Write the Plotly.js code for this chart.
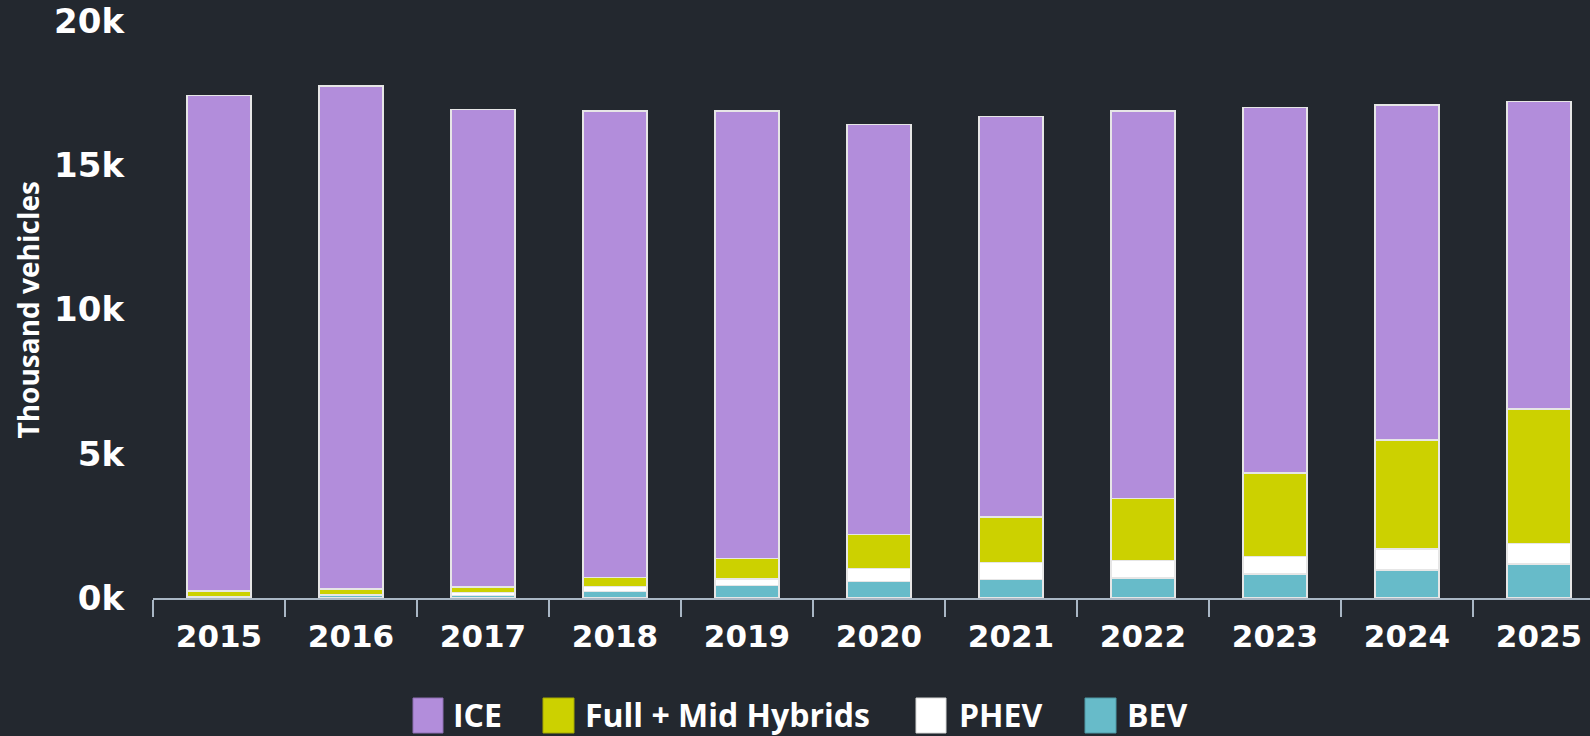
<!DOCTYPE html>
<html>
<head>
<meta charset="utf-8">
<script src="https://cdn.plot.ly/plotly-3.0.1.min.js"></script>
<style>
  html, body { margin: 0; padding: 0; background: #23282f; overflow: hidden; }
  #chart { width: 1590px; height: 736px; }
</style>
</head>
<body>
<div id="chart"></div>
<script>
// Data (thousand vehicles)
const years = ["2015","2016","2017","2018","2019","2020","2021","2022","2023","2024","2025"];
const bev    = [20, 80, 90, 230, 420, 570, 640, 690, 830, 970, 1180];
const phev   = [40, 50, 110, 180, 240, 460, 590, 610, 600, 730, 720];
const hybrid = [180, 180, 180, 300, 720, 1170, 1580, 2160, 2900, 3780, 4650];
const ice    = [17190, 17440, 16560, 16170, 15500, 14220, 13870, 13420, 12680, 11610, 10670];

const seriesNames = ["ICE", "Full + Mid Hybrids", "PHEV", "BEV"];
const yTickVals = [0, 5000, 10000, 15000, 20000];
const yTickText = ["0k", "5k", "10k", "15k", "20k"];
const yTitle = "Thousand vehicles";

const colors = {
  "ICE": "#b28ddb",
  "Full + Mid Hybrids": "#ccd100",
  "PHEV": "#ffffff",
  "BEV": "#67bbc9"
};
const swatchBorder = {
  "ICE": "#8e6fb3",
  "Full + Mid Hybrids": "#a4a800",
  "PHEV": "#d8d8d8",
  "BEV": "#4f98a5"
};

function barTrace(name, vals) {
  return {
    type: "bar", name: name, x: years, y: vals,
    marker: { color: colors[name], line: { color: "#e6e6e6", width: 1.2 } },
    showlegend: false,
    hovertemplate: "%{x}<br>" + name + ": %{y}<extra></extra>"
  };
}

const data = [
  barTrace("BEV", bev),
  barTrace("PHEV", phev),
  barTrace("Full + Mid Hybrids", hybrid),
  barTrace("ICE", ice)
];

// plot area geometry (pixels)
const W = 1590, H = 736;
const mL = 153, mR = 0, mT = 21, mB = 138;
const pw = W - mL - mR, ph = H - mT - mB;
const px2paperX = px => (px - mL) / pw;
const py2paperY = py => (H - mB - py) / ph;

// custom legend (big swatches)
const legendItems = [
  { name: "ICE", x0: 413, x1: 443, tx: 452 },
  { name: "Full + Mid Hybrids", x0: 543, x1: 574, tx: 584 },
  { name: "PHEV", x0: 916, x1: 946, tx: 958 },
  { name: "BEV", x0: 1085, x1: 1116, tx: 1126 }
];
const shapes = [], annotations = [];
legendItems.forEach(it => {
  shapes.push({
    type: "rect", xref: "paper", yref: "paper",
    x0: px2paperX(it.x0), x1: px2paperX(it.x1),
    y0: py2paperY(698), y1: py2paperY(733),
    fillcolor: colors[it.name], line: { color: swatchBorder[it.name], width: 1 }
  });
  annotations.push({
    xref: "paper", yref: "paper", x: px2paperX(it.tx), y: py2paperY(714),
    xanchor: "left", yanchor: "middle", showarrow: false, text: it.name,
    borderpad: 0,
    font: { family: "Open Sans", size: 32, color: "#ffffff", weight: 700 }
  });
});

// y-axis title (rotated), positioned like the reference
annotations.push({
  xref: "paper", yref: "paper", x: px2paperX(27), y: 0.5,
  xanchor: "center", yanchor: "middle", showarrow: false, textangle: -90,
  text: yTitle, borderpad: 0,
  font: { family: "Open Sans", size: 28, color: "#ffffff", weight: 700 }
});

const layout = {
  width: W, height: H,
  paper_bgcolor: "#23282f", plot_bgcolor: "#23282f",
  margin: { l: mL, r: mR, t: mT, b: mB, pad: 0, autoexpand: false },
  barmode: "stack",
  bargap: 0.515,
  showlegend: false,
  xaxis: {
    type: "category",
    range: [-0.5, -0.5 + pw / 132],
    showline: true, linecolor: "#a9b7c5", linewidth: 1.5,
    ticks: "outside", tickson: "boundaries", ticklen: 17, tickwidth: 1.5, tickcolor: "#a9b7c5",
    showgrid: false, zeroline: false,
    tickfont: { family: "DejaVu Sans", size: 31, color: "#ffffff", weight: 700 },
    ticklabelstandoff: 10
  },
  yaxis: {
    range: [0, 20000],
    tickvals: yTickVals, ticktext: yTickText,
    showline: false, showgrid: false, zeroline: false,
    ticks: "",
    ticklabelstandoff: 28,
    tickfont: { family: "DejaVu Sans", size: 34, color: "#ffffff", weight: 700 },
    automargin: false
  },
  shapes: shapes,
  annotations: annotations
};

Plotly.newPlot("chart", data, layout, { displayModeBar: false, responsive: false });
</script>
</body>
</html>
